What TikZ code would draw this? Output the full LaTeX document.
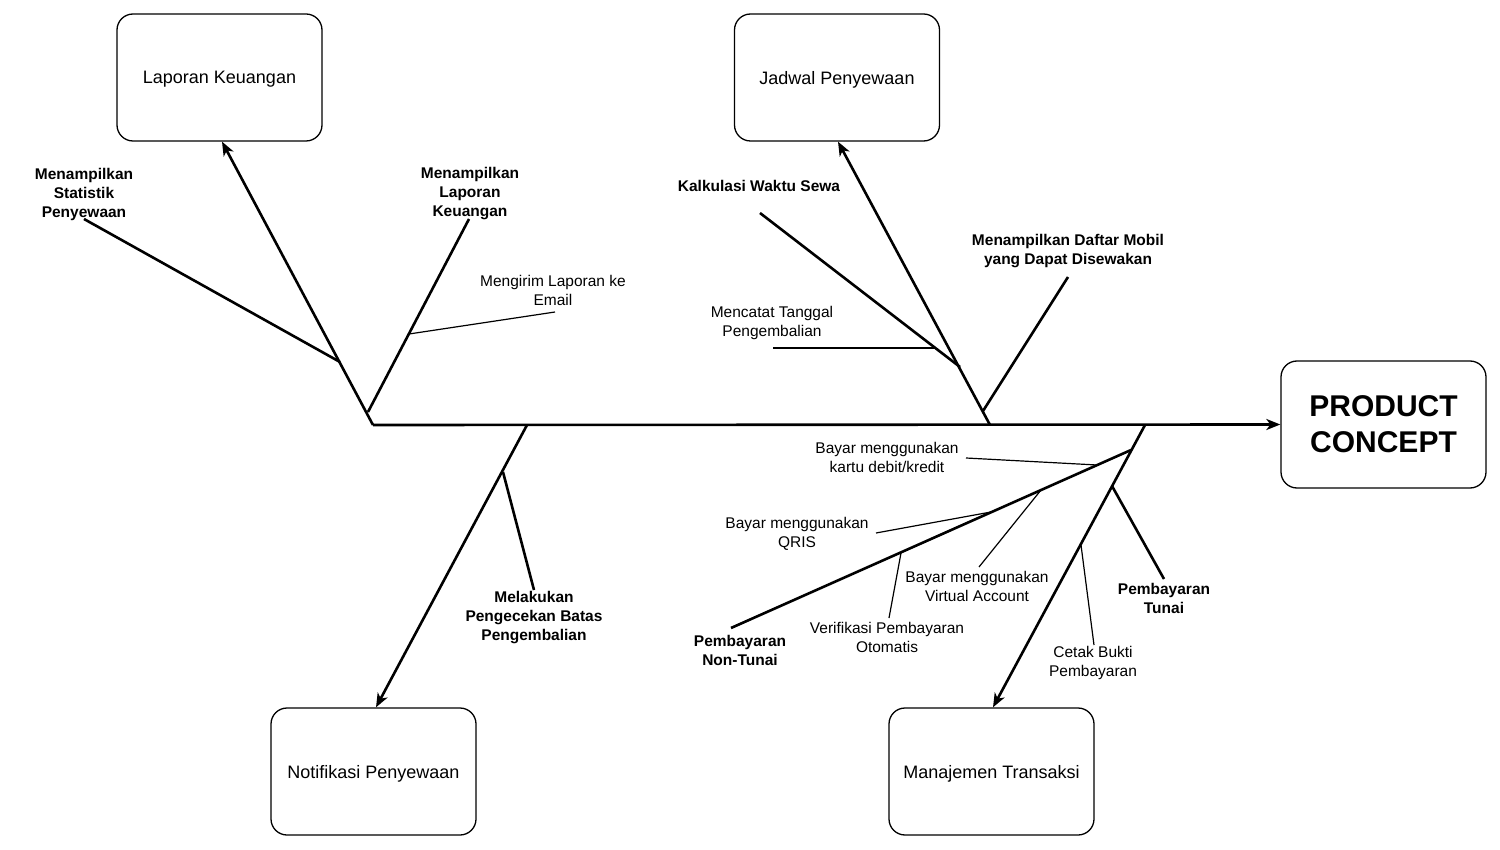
\documentclass[tikz,border=0pt]{standalone}
\usepackage{fontspec}
\setmainfont{Liberation Sans}
\usetikzlibrary{arrows.meta}
\begin{document}
\begin{tikzpicture}[x=1pt,y=-1pt,
  box/.style={draw, line width=1.3pt, rounded corners=16pt, minimum width=205pt, minimum height=127pt, font=\fontsize{18}{22}\selectfont, align=center, inner sep=0pt},
  lbl/.style={font=\fontsize{15.5}{19}\selectfont, align=center, inner sep=0pt},
  blbl/.style={font=\fontsize{15.5}{19}\selectfont\bfseries, align=center, inner sep=0pt},
  bone/.style={line width=2.6pt},
  twig/.style={line width=1.2pt},
  arr/.style={bone, -{Stealth[length=14pt,width=11pt,inset=4pt]}}
]
\useasboundingbox (0,0) rectangle (1500,850);

% boxes
\node[box, text depth=0pt] (lap) at (219.5,77.5) {Laporan Keuangan};
\node[box, text depth=0pt] (jad) at (837,77.5) {Jadwal Penyewaan};
\node[box, text depth=0pt] (notif) at (373.5,771.5) {Notifikasi Penyewaan};
\node[box, text depth=0pt] (man) at (991.5,771.5) {Manajemen Transaksi};
\node[box, font=\fontsize{30}{36}\selectfont\bfseries] (prod) at (1383.5,424.5) {PRODUCT\\CONCEPT};

% labels
\node[blbl] (lstat) at (84,194) {Menampilkan\\Statistik\\Penyewaan};
\node[blbl] (llap) at (470,194) {Menampilkan\\Laporan\\Keuangan};
\node[lbl] (lmail) at (553,290) {Mengirim Laporan ke\\Email};
\node[blbl] (lkal) at (759,186) {Kalkulasi Waktu Sewa};
\node[lbl] (lcat) at (772,322.5) {Mencatat Tanggal\\Pengembalian};
\node[blbl] (ldaf) at (1068,251.5) {Menampilkan Daftar Mobil\\yang Dapat Disewakan};
\node[blbl] (lcek) at (534,618) {Melakukan\\Pengecekan Batas\\Pengembalian};
\node[lbl] (lkartu) at (887,457) {Bayar menggunakan\\kartu debit/kredit};
\node[lbl] (lqris) at (797,534) {Bayar menggunakan\\QRIS};
\node[lbl] (lva) at (977,586) {Bayar menggunakan\\Virtual Account};
\node[lbl] (lver) at (887,637) {Verifikasi Pembayaran\\Otomatis};
\node[blbl] (lnon) at (740,650) {Pembayaran\\Non-Tunai};
\node[blbl] (ltun) at (1164,598) {Pembayaran\\Tunai};
\node[lbl] (lcet) at (1093,663) {Cetak Bukti\\Pembayaran};

% junction coordinates
\coordinate (s0) at (373,425);
\coordinate (j0) at (990,425);
\coordinate (n0) at (527,425);
\coordinate (m0) at (1145,425);
\coordinate (a1) at (340,362);  \coordinate (a1e) at (84,219);
\coordinate (a2) at (368,412);  \coordinate (a2e) at (469,219);
\coordinate (a3) at (409,334);  \coordinate (a3e) at (555,312);
\coordinate (b1) at (960,367);  \coordinate (b1e) at (760,213);
\coordinate (b2) at (935,348);  \coordinate (b2e) at (773,348);
\coordinate (b3) at (983,411);  \coordinate (b3e) at (1068,277);
\coordinate (c1) at (503,472);  \coordinate (c1e) at (534,590);
\coordinate (d1) at (1131,450); \coordinate (d1e) at (731,628);
\coordinate (d2) at (1112,486); \coordinate (d2e) at (1164,579);
\coordinate (d3) at (1081,545); \coordinate (d3e) at (1094,645);
\coordinate (d4) at (1097,465); \coordinate (d4e) at (966,458);
\coordinate (d5) at (991,512);  \coordinate (d5e) at (876,533);
\coordinate (d6) at (1041,490); \coordinate (d6e) at (979,567);
\coordinate (d7) at (901,553);  \coordinate (d7e) at (889,618);

% spine and main bones
\draw[arr] (s0) -- (prod.west);
\draw[arr] (s0) -- ([xshift=2.5pt]lap.south);
\draw[arr] (j0) -- ([xshift=1pt]jad.south);
\draw[arr] (n0) -- ([xshift=2.5pt]notif.north);
\draw[arr] (m0) -- ([xshift=1.5pt]man.north);

% sub bones
\draw[bone] (a1) -- (a1e);
\draw[bone] (a2) -- (a2e);
\draw[twig] (a3) -- (a3e);
\draw[bone] (b1) -- (b1e);
\draw[twig] (b2) -- (b2e);
\draw[bone] (b3) -- (b3e);
\draw[bone] (c1) -- (c1e);
\draw[bone] (d1) -- (d1e);
\draw[bone] (d2) -- (d2e);
\draw[twig] (d3) -- (d3e);
\draw[twig] (d4) -- (d4e);
\draw[twig] (d5) -- (d5e);
\draw[twig] (d6) -- (d6e);
\draw[twig] (d7) -- (d7e);
\end{tikzpicture}
\end{document}
